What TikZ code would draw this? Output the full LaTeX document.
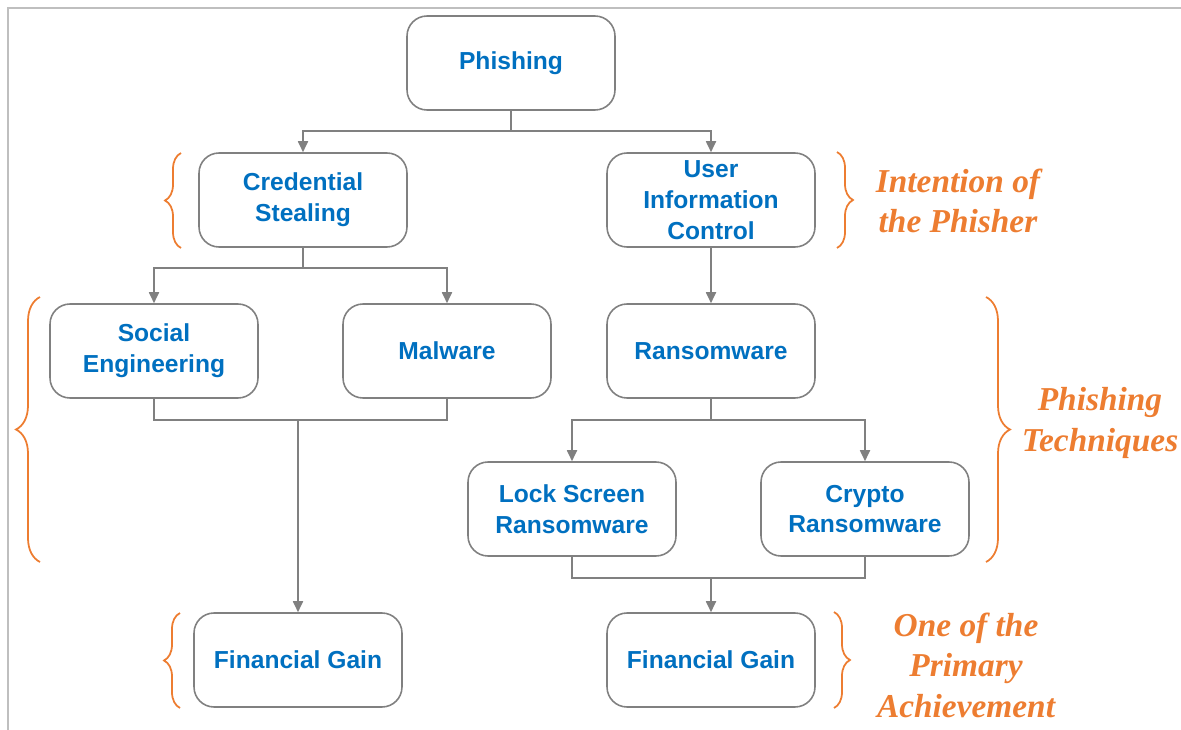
\documentclass[tikz,border=0pt]{standalone}
\usepackage{fontspec}
\setmainfont{Liberation Sans}
\newfontfamily\notefont{Liberation Serif}
\usetikzlibrary{arrows.meta,decorations.pathreplacing}
\definecolor{boxblue}{RGB}{0,112,192}
\definecolor{braceorange}{RGB}{237,125,49}
\definecolor{linegray}{RGB}{128,128,128}
\definecolor{framegray}{RGB}{191,191,191}

\begin{document}
\begin{tikzpicture}[x=0.02cm,y=-0.02cm,
  stagebox/.style={draw=linegray,line width=0.9pt,rounded corners=0.4cm,fill=white,
    minimum width=4.16cm,minimum height=1.88cm,align=center,text=boxblue,
    font=\fontsize{14}{17.5}\selectfont\bfseries},
  link/.style={draw=linegray,line width=1pt},
  arr/.style={link,-{Triangle[length=2.2mm,width=2mm]}},
  curly/.style={draw=braceorange,line width=1pt,decorate,decoration={brace,amplitude=#1}},
  curly/.default=0.32cm,
  notetext/.style={text=braceorange,align=center,
    font=\notefont\fontsize{19}{23}\selectfont\bfseries\itshape}]
\useasboundingbox (0,0) rectangle (1181,730);
\draw[framegray,line width=1.1pt] (8,730) -- (8,8) -- (1181,8);

\node[stagebox] (phish) at (511,63) {Phishing};
\node[stagebox] (cred) at (303,200) {Credential\\Stealing};
\node[stagebox] (uic) at (711,200) {User\\Information\\Control};
\node[stagebox] (social) at (154,351) {Social\\Engineering};
\node[stagebox] (malware) at (447,351) {Malware};
\node[stagebox] (ransom) at (711,351) {Ransomware};
\node[stagebox] (lock) at (572,509) {Lock Screen\\Ransomware};
\node[stagebox] (crypto) at (865,509) {Crypto\\Ransomware};
\node[stagebox] (gainA) at (298,660) {Financial Gain};
\node[stagebox] (gainB) at (711,660) {Financial Gain};

% splits
\draw[link] (phish.south) -- ++(0,20) coordinate (j1);
\draw[arr] (j1) -| (cred.north);
\draw[arr] (j1) -| (uic.north);
\draw[link] (cred.south) -- ++(0,20) coordinate (j2);
\draw[arr] (j2) -| (social.north);
\draw[arr] (j2) -| (malware.north);
\draw[arr] (uic) -- (ransom);
\draw[link] (ransom.south) -- ++(0,21) coordinate (j3);
\draw[arr] (j3) -| (lock.north);
\draw[arr] (j3) -| (crypto.north);

% merges
\draw[link] (social.south) -- ++(0,21) coordinate (m1) -| (malware.south);
\draw[arr] (m1 -| gainA.north) -- (gainA.north);
\draw[link] (lock.south) -- ++(0,21) coordinate (m2) -| (crypto.south);
\draw[arr] (m2 -| gainB.north) -- (gainB.north);

% braces
\draw[curly] (181,248) -- (181,153);
\draw[curly=0.48cm] (40,562) -- (40,297);
\draw[curly] (180,708) -- (180,613);
\draw[curly] (837,152) -- (837,248);
\draw[curly=0.48cm] (986,297) -- (986,562);
\draw[curly] (834,612) -- (834,708);

\node[notetext] (intent) at (958,201) {Intention of\\the Phisher};
\node[notetext] (tech) at (1100,423) {Phishing\\Techniques};
\node[notetext] (goal) at (966,665) {One of the\\Primary\\Achievement};
\end{tikzpicture}
\end{document}
